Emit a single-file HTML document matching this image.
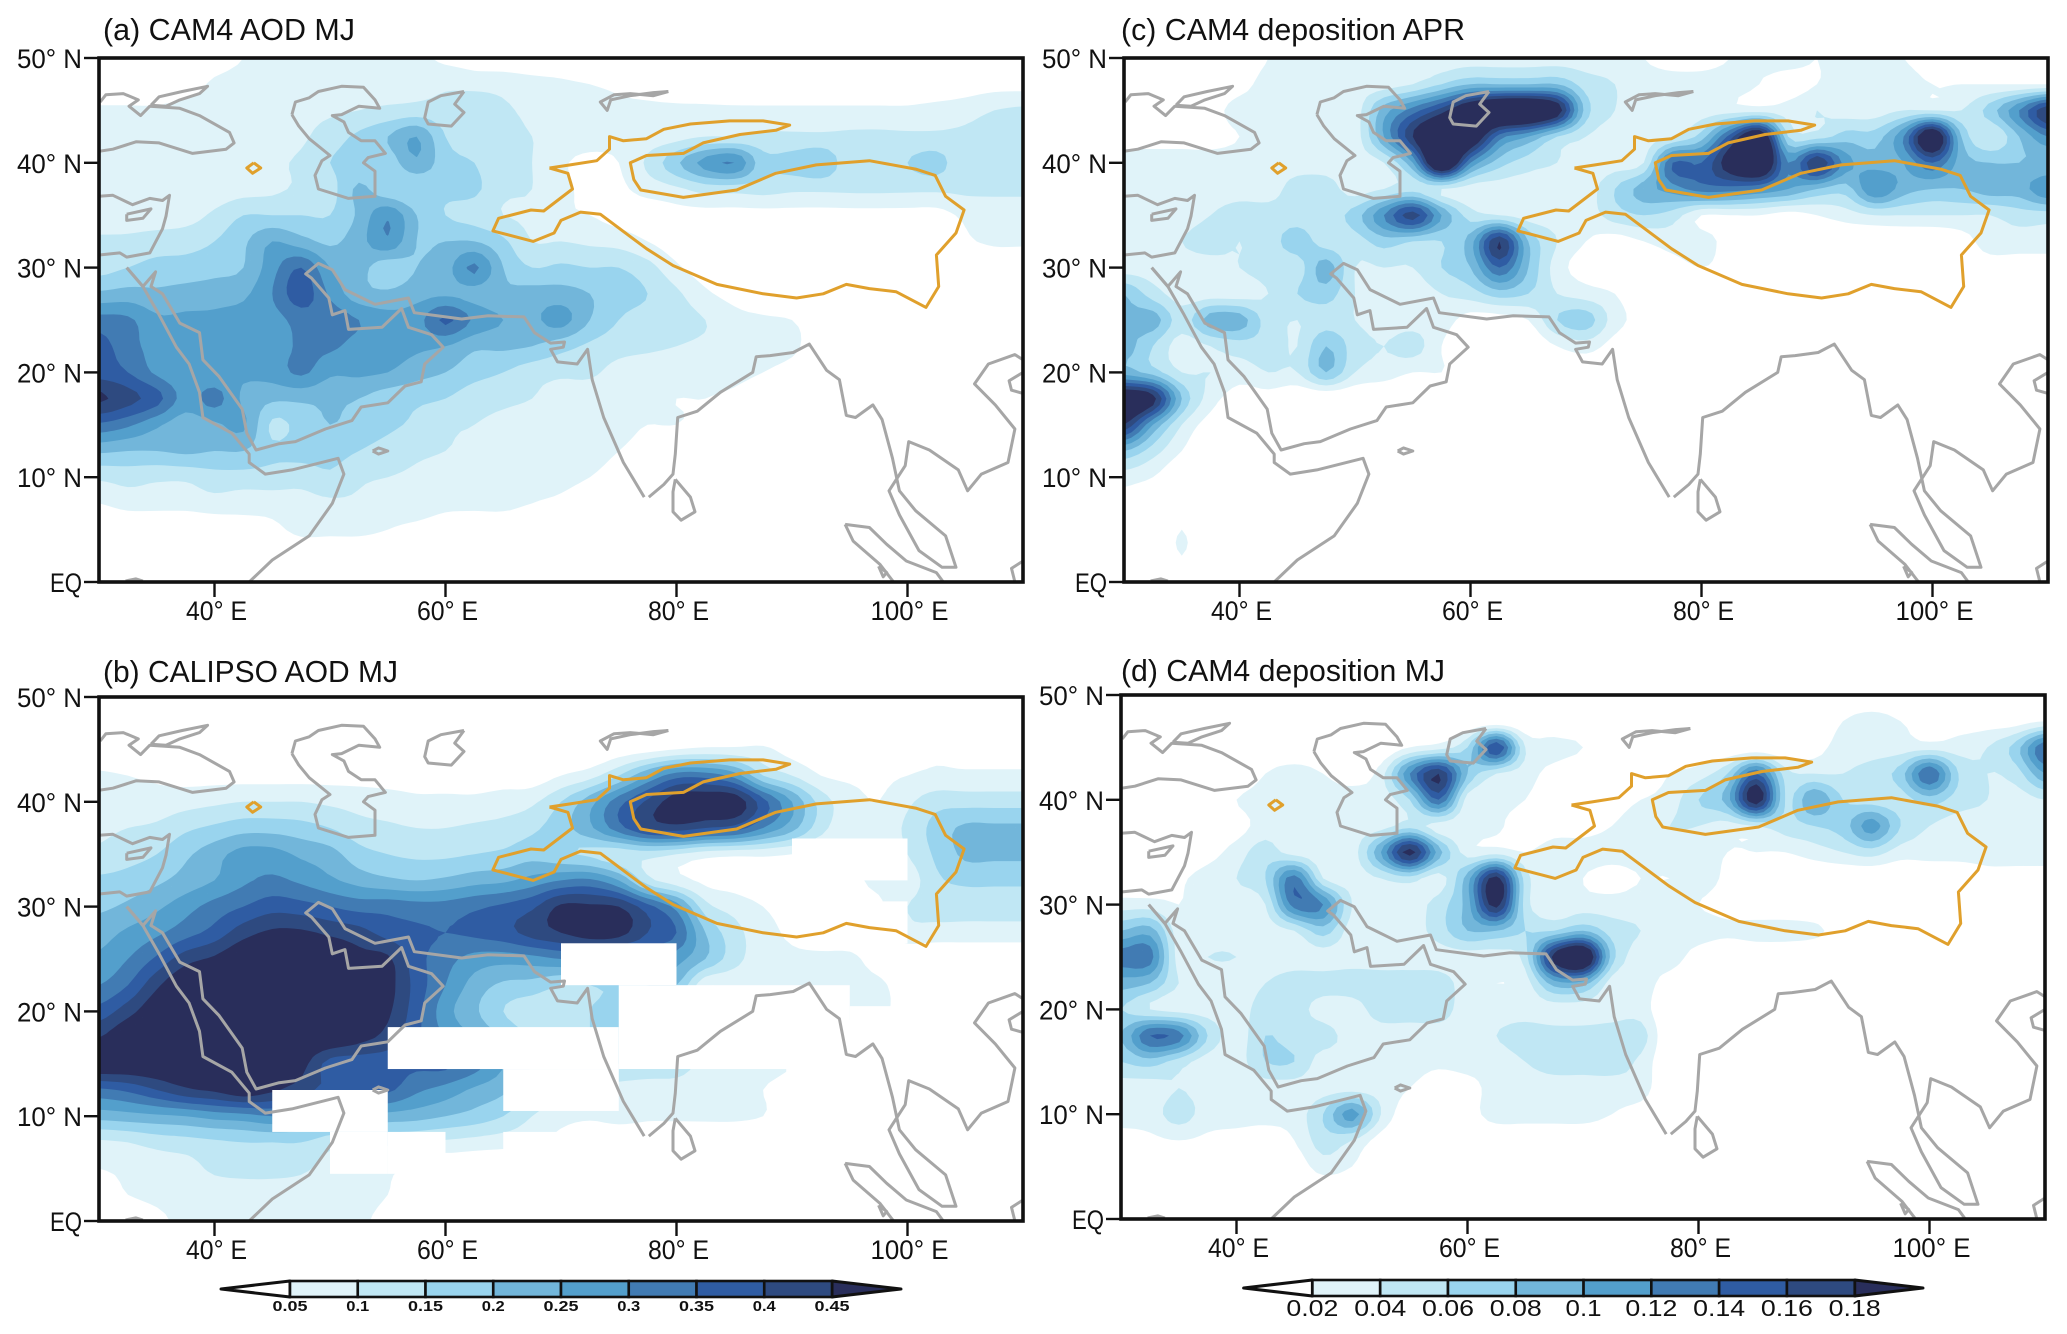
<!DOCTYPE html>
<html lang="en">
<head>
<meta charset="utf-8">
<title>Dust AOD and deposition maps</title>
<style>
html,body{margin:0;padding:0;background:#fff;width:2067px;height:1334px;overflow:hidden}
svg{display:block}
text{font-family:"Liberation Sans",sans-serif;fill:#111}
</style>
</head>
<body>
<svg id="figure" xmlns="http://www.w3.org/2000/svg" width="2067" height="1334" viewBox="0 0 2067 1334">
<rect x="0" y="0" width="2067" height="1334" fill="#fff"/>
<text x="103" y="40" font-size="31" textLength="252" lengthAdjust="spacingAndGlyphs">(a) CAM4 AOD MJ</text>
<text x="103" y="682" font-size="31" textLength="295" lengthAdjust="spacingAndGlyphs">(b) CALIPSO AOD MJ</text>
<text x="1121" y="40" font-size="31" textLength="344" lengthAdjust="spacingAndGlyphs">(c) CAM4 deposition APR</text>
<text x="1121" y="681" font-size="31" textLength="324" lengthAdjust="spacingAndGlyphs">(d) CAM4 deposition MJ</text>
</svg>
<script>
// ---- axis values ----
const lonTicks=[40,60,80,100];
const lonTickLabels=["40° E","60° E","80° E","100° E"];
const latTicks=[0,10,20,30,40,50];
const latTickLabels=["EQ","10° N","20° N","30° N","40° N","50° N"];
const palette=["#e0f3f9","#c0e7f4","#99d4ee","#72b6da","#539fcc","#417bb3","#2f5ca3","#2e4a80","#292e5b"];
const aodLevels=[5,10,15,20,25,30,35,40,45];
const aodBarLabels=["0.05","0.1","0.15","0.2","0.25","0.3","0.35","0.4","0.45"];
const depLevels=[2,4,6,8,10,12,14,16,18];
const depBarLabels=["0.02","0.04","0.06","0.08","0.1","0.12","0.14","0.16","0.18"];

// ---- gridded values (×100), rows 50N→0 every 2.5°, columns 30E→110E every 2.5°; short rows continue with zeros ----
const fieldA=[
[0,0,0,0,2,5,6,6,6,6,6,6,4,3,2,1,1],
[0,0,0,2,6,7,7,7,8,8,8,8,9,8,8,7,6,5,4,3,2,2,1,1,1,1,1,1,1,1,2,3,3],
[6,6,6,7,7,7,8,8,9,10,11,12,12,15,11,9,8,7,6,6,6,6,6,6,6,6,6,6,6,7,8,10,11],
[7,7,7,7,7,7,8,9,13,16,20,25,15,12,11,10,9,8,7,7,8,10,10,11,11,11,11,11,11,11,11,12,12],
[6,6,6,6,7,8,9,11,15,16,17,24,17,15,11,10,6,3,5,11,19,27,30,17,17,19,12,11,15,17,11,11,11],
[7,7,8,7,7,8,9,11,13,21,16,15,16,16,11,10,7,3,4,7,9,12,12,12,11,11,11,11,11,11,11,11,11],
[7,8,8,8,11,15,15,15,15,21,29,20,15,13,10,9,6,5,3,2,3,3,3,3,3,3,3,3,3,3,6,7,7],
[11,11,12,13,15,19,25,22,19,23,29,20,20,20,16,10,10,9,8,5,2,0,0,0,0,0,0,0,0,0,4,6,6],
[13,15,17,17,18,20,28,35,25,22,17,20,23,31,20,15,16,15,15,12,6,2],
[21,22,21,22,23,24,30,38,29,22,21,23,24,23,21,22,22,20,17,15,11,6,3],
[32,31,26,26,26,27,28,32,33,30,27,28,36,29,25,24,27,20,15,13,12,10,7,6,5,2],
[37,32,28,26,27,27,27,31,31,28,27,26,25,21,21,20,17,14,12,11,10,9,8,7,6,2],
[38,35,29,26,26,26,27,31,26,26,25,22,20,17,15,12,11,11,8,7,7,6,6,5,3],
[46,42,37,28,32,24,21,21,21,20,17,16,15,12,11,10,8,7,6,6,5,5,4,2],
[34,31,26,22,24,26,14,17,20,18,16,14,11,10,9,8,7,6,6,5,5,3],
[21,20,20,21,20,20,16,17,17,15,13,11,10,9,8,7,6,6,5,3],
[11,12,11,11,13,13,13,12,14,11,10,9,8,7,6,6,6,5,3],
[5,7,7,7,8,7,7,8,9,9,7,7,6,6,6,5,4,2],
[0,0,0,0,1,3,4,6,6,6,5,4,3,2,2,1],
[0,0,0,0,0,1,2,2,2,2,2,1,1],
[]
];
const fieldB=[
[],
[],
[0,0,0,0,0,0,0,0,0,0,0,0,0,0,0,0,0,0,2,3,5,6,6,6,3,2,2,2,3,4,3,3,3],
[6,5,4,3,3,3,3,3,3,3,3,3,3,3,3,2,5,8,15,25,33,33,28,15,10,5,4,4,5,6,6,6,6],
[7,7,7,8,9,10,10,10,9,8,7,6,6,6,7,9,15,23,33,41,48,49,49,37,25,13,7,5,9,13,13,13,13],
[9,10,11,14,16,18,18,17,15,12,11,10,10,11,12,14,18,24,33,41,43,40,38,30,22,12,6,7,11,17,21,21,21],
[11,13,15,19,23,27,27,24,22,17,15,14,14,15,16,18,16,14,12,12,10,7,6,6,5,4,4,5,10,16,21,21,21],
[16,17,19,22,25,29,31,29,26,23,21,20,21,23,24,27,30,31,25,12,7,4,3,2,2,3,4,6,7,14,16,16,16],
[19,21,24,28,32,35,38,37,35,33,33,32,32,34,36,39,46,46,45,37,28,12,8,5,3,2,3,4,10,12,12,12,12],
[23,26,29,33,37,43,46,46,44,42,38,36,35,36,38,42,45,48,47,40,35,20,12,7,4,2,2,3,8,8,8,8,8],
[26,30,36,43,46,50,50,50,50,47,46,37,32,28,27,28,30,30,30,30,27,20,12,7,6,6,6,3,1],
[30,35,44,50,50,50,50,50,50,50,47,38,30,23,19,18,15,15,17,20,20,6,6,6,6,5,6,6,2],
[37,43,49,50,50,50,50,50,50,50,46,37,27,21,15,12,12,15,17,6,6,6,6,6,6,6,7,7,1],
[45,50,50,50,50,50,50,50,50,47,43,36,30,25,20,15,15,15,15,12,10,8,6,4,2],
[50,50,50,50,50,50,50,47,38,37,37,36,36,32,25,20,15,15,15,14,13,8,7,6,5,3],
[34,36,40,44,46,49,46,42,38,37,36,31,28,24,21,15,12,10,8,7,7,6,6,5,3],
[22,23,24,25,27,28,30,28,25,24,23,22,20,18,15,10,7,6,7,6,6,6,6,5,2],
[9,10,12,13,14,15,15,15,12,11,11,10,9,8,7,6,3],
[5,6,7,8,11,12,12,11,8,6,6,3,1],
[3,5,6,7,7,7,7,7,7,7,5,2],
[1,2,4,6,6,6,6,6,6,6,3,1]
];
// CALIPSO boxes with no retrieval: [west, east, south, north]
const missingB=[
[70,80,22.5,26.5],[75,95,14.5,22.5],[95,110,14.5,20.5],[55,75,14.5,18.5],
[65,75,10.5,14.5],[45,55,8.5,12.5],[50,55,4.5,8.5],[55,60,4.5,8.5],
[60,65,0,6.5],[65,90,6.5,8.5],[89.5,110,8.5,14.5],[90,100,32.5,36.5],[90,100,26.5,30.5]
];
const fieldC=[
[0,0,0,0,0,2,3,3,3,3,3,3,3,3,3,3,3,3,2,1,1,2,3,3,2,3,3,2,1],
[0,0,0,0,1,3,3,3,3,3,4,6,8,8,8,8,5,4,3,3,3,3,2,1,2,3,3,3,2,2,2,2,2],
[0,0,0,1,3,3,3,3,3,9,13,17,22,24,24,20,7,4,3,3,3,3,3,3,4,3,3,4,4,4,7,12,18],
[1,1,1,1,2,3,3,3,3,10,18,24,22,13,10,6,4,3,3,4,7,15,22,6,5,7,7,12,22,8,4,8,12],
[3,3,3,3,3,3,3,3,3,4,10,24,12,7,5,4,3,3,4,14,14,20,24,12,18,11,9,10,14,9,8,8,8],
[3,3,3,3,3,3,5,5,3,4,5,4,3,3,3,3,3,6,9,11,13,13,12,10,8,7,12,9,8,8,9,9,12],
[3,3,3,4,5,5,5,5,7,12,17,10,5,4,3,3,3,5,6,5,2,2,2,1,2,3,4,4,4,4,4,5,5],
[3,3,4,5,4,5,7,5,5,7,6,6,9,18,8,4,2,1,2,3,3,1,0,0,0,0,0,0,0,1,3,3,3],
[3,3,3,3,4,5,5,9,4,4,4,6,8,14,8,3,1,0,0,1,2,1,0,0,0,0,0,0,0,1,1,1,1],
[8,5,3,3,3,4,6,7,4,3,3,4,5,7,6,4,3,2],
[8,9,5,9,9,5,4,5,4,3,3,3,1,1,2,6,7,3,1],
[9,6,3,4,5,5,4,8,5,4,5,2,0,0,0,2,3,1],
[9,7,4,4,3,4,4,8,4,3,2,2,1],
[22,19,8,3,1,1],
[18,10,4,1],
[8,5,2],
[3,2],
[1],
[0,0,2],
[0,0,2],
[]
];
const fieldD=[
[],
[0,0,0,0,0,0,0,0,0,0,0,0,0,0,0,0,0,0,0,0,0,0,0,0,0,2,3,2,1,1,1,1,2],
[0,0,0,0,0,0,0,0,0,0,2,3,6,16,4,3,2,0,0,0,0,0,0,0,1,3,3,3,3,3,4,7,14],
[0,0,0,0,0,2,3,2,1,3,12,18,8,4,3,1,0,0,0,2,3,6,14,5,4,4,5,7,14,6,4,5,10],
[0,0,0,0,2,3,3,3,3,3,6,14,3,3,2,0,0,1,2,3,6,9,20,6,10,6,5,5,7,5,4,3,4],
[0,0,0,0,1,3,3,3,3,3,5,3,3,2.5,0.5,1,1,2,3,4,4,3,4,5,6,7,11,6,4,3,3,3,3],
[0,0,0,1,3,5,3,3,3,10,19,9,3,3,2,3,3,3,3,3,3,2,2,2,3,4,5,3,3,3,3,3,3],
[0,0,1.5,3,4,6,13,4,3,4,5,3,9,19,5,3,2,1,2,2,3,1.5,0,0,0,0,0,0,0,0,1,1,1],
[3,3,2,3,3,4,13,12,4,3,3,5,9,19,5,3,3,3,3,3,2,1],
[8,9,3,3,3,3,4,7,3,3,3,5,8,8,6,6,8,5,4,3,3,2.5,3,3,2.5,1],
[13,13,3,4,4,3,3,3,3,3,3,3,3,3,5,19,23,7,3,3,1],
[9,8,4,3,3,4,5,5,5,5,5,5,3,2,3,9,9,3,3,1],
[6,4,3,3,3,5,5,3,3,5,5,5,3,3,3,3,3,3,3],
[8,14,13,6,3,6,5,5,3,3,3,3,3,4,5,5,5,5,5],
[6,7,5,3,3,6,6,3,4,3,3,2.5,3,3,4,5,5,5,3.5],
[3,3,4,3,2.5,3,3,3,3,3,2,0.5,1,3,3,3,3,3,3],
[3,3,5,3,3,3,3,6,11,4,0.5,0,1,3,3,3,3,2,1],
[1,1.5,2,1.5,1,0.5,2,5,4,1],
[0,0,0,0,0,0,0.5,3,2],
[],
[]
];

// ---- coast and boundary lines as [lon, lat] ----
const coastlines=[
[[30.1,45.8],[30.6,46.5],[32.1,46.6],[33.4,46],[32.6,45.4],[33.6,44.5],[34.4,45.4],[37,45.2],[38.7,44.5],[41.3,42.9],[41.7,41.9],[41,41.3],[38.1,40.9],[35.2,41.9],[33.2,42],[31.2,41.3],[30,41.1]],
[[34.5,45.5],[35.2,46.3],[37.2,46.8],[39.4,47.3],[38.7,46.6],[37,46],[35.8,45.4],[34.5,45.5]],
[[46.7,44.6],[47,45.8],[48.2,46.2],[49,46.8],[51,47.3],[52.9,47.2],[53.9,46],[54.3,45.2],[52.5,45.4],[51,44.6],[50.2,44.5],[51.2,43.9],[51.6,42.9],[52.7,42.1],[53.9,42.1],[54.8,40.9],[53.3,40.5],[52.9,40],[53.9,39.2],[53.9,36.8],[51.6,36.6],[49,37.5],[48.7,38.8],[49.3,40.2],[50,40.7],[48.2,42.3],[47.3,43.5],[46.7,44.6]],
[[61.6,46.8],[59.6,46.4],[58.5,45.8],[58.2,44.3],[58.5,43.7],[60.5,43.5],[61.6,44.8],[60.8,45.6],[61.6,46.8]],
[[79.3,46.8],[78,46.4],[76,46.6],[74.6,46.5],[73.4,45.8],[74,45],[74.3,46],[76,46.4],[78,46.7],[79.3,46.8]],
[[30,36.8],[31.2,36.9],[32.9,36],[34.4,36.6],[35.5,36.4],[36.1,36.9],[35.8,34.9],[35.5,33.7],[34.4,31.4],[32.4,31],[31.8,31.4],[30,31.2]],
[[32.4,35.1],[34.5,35.6],[33.8,34.7],[32.4,34.5],[32.4,35.1]],
[[32.4,30],[33.8,28.2],[35.2,25.5],[36.7,22.4],[37.8,20.8],[38.7,18.1],[39,15.7],[41.5,14.2],[43,12.2],[43,11.4],[44.4,10.3],[46.7,10.7],[50.7,11.8],[51.2,10.3],[50.2,7.5],[48.2,4.4],[45,2.1],[43,0]],
[[32.4,30],[33.8,28.2],[34.9,29.6],[34.5,28.2],[35.5,27.5],[37,24.7],[38.7,23.8],[39,21.2],[40.4,19.6],[42.4,16.5],[42.8,14.2],[43.6,12.6],[45.6,13.2],[47,13.4],[49.6,14.6],[51.9,15.4],[52.7,16.7],[55,17.1],[56.5,18.7],[57.9,19.1],[58.2,20.8],[59.8,22.4],[58.8,23.6],[56.8,24.3],[56.2,26.1],[54.5,24.3],[51.6,24.1],[51.3,25.9],[50.2,25.5],[49.9,27.1],[48.4,29],[47.9,29.4],[49,30.4],[50.2,29.8],[51.3,27.9],[53.9,26.5],[56.8,27.1],[57.3,25.7],[61.4,25.1],[63.7,25.4],[66.8,25.3],[67.7,23.8],[69.1,22.8],[70.3,22.9],[70.2,22.4],[69.1,22.2],[69.7,21],[71.4,20.8],[72.3,22.2],[72.7,19.3],[73.7,15.7],[75.4,11.4],[77.2,8.1]],
[[77.6,8.1],[78.9,9.3],[79.7,10.3],[79.9,12.2],[80.1,15.7],[81.8,16.3],[83.8,18.1],[86.6,20],[86.9,21.5],[88.1,21.6],[90.1,21.9],[91.5,22.7],[93,20.2],[94.1,19.3],[94.7,15.9],[95.5,15.7],[97,16.9],[97.8,15.5],[98.7,11.8],[99.3,8.7],[100.7,6.8],[103.3,4.4],[104.2,1.4],[103,1.4],[101,3],[99.3,6.4],[98.4,8.7],[99.8,11.1],[100.1,13.4],[101.9,12.6],[104.4,10.7],[105.2,8.7],[106.4,10.3],[108.7,11.4],[109.3,14.6],[107.6,16.9],[105.8,18.9],[107,20.8],[109.3,21.7],[110,21.2]],
[[110,20],[108.8,19.2],[109,18.3],[110,18]],
[[94.6,5.5],[96.7,5.2],[98.2,3.6],[99.9,2],[102.5,0.9],[103.1,0]],
[[94.6,5.5],[95.3,3.9],[97.6,1.7],[98.8,0]],
[[97.5,1.5],[98.2,0.9],[97.9,0.5],[97.5,1.5]],
[[110,2],[109,1.3],[109.3,0]],
[[79.9,9.8],[81.2,8.1],[81.6,6.7],[80.4,5.9],[79.7,6.7],[79.7,8.6],[79.9,9.8]],
[[53.7,12.5],[54.2,12.8],[55,12.5],[54.2,12.2],[53.7,12.5]],
[[32.3,0.1],[33.2,0.3],[33.8,0.1]]
];
const plateauOutline=[
[[69,39.5],[70.8,39.8],[73.1,40.2],[74.2,41.3],[74.2,42.5],[75.4,42.1],[77.4,42.3],[78.9,43.2],[81.2,43.7],[84.6,44],[87.5,44],[89.8,43.6],[88.6,43.1],[85.5,42.7],[82.3,41.9],[80.6,40.9],[77.4,40.7],[76,40],[76.3,38.4],[76.9,37.4],[80.6,36.7],[85.2,37.4],[88.6,39],[92.1,39.8],[96.7,40.2],[100.7,39.4],[102.4,38.8],[103.3,36.8],[104.9,35.5],[104.2,33.3],[102.5,31.2],[102.7,28.2],[101.6,26.2],[99,27.7],[96.7,28],[94.7,28.4],[92.7,27.5],[90.4,27.1],[87.5,27.5],[83.5,28.4],[79.7,30.2],[77.4,31.8],[73.4,35.1],[71.7,35.3],[70,34.5],[69.4,33.3],[67.6,32.5],[64.1,33.5],[64.6,34.7],[67.4,35.5],[68.5,35.4],[71,37.5],[70.6,39],[69,39.5]],
[[43.4,40],[44,39.5],[43.3,39],[42.8,39.5],[43.4,40]]
];

// ---- layout ----
const NS="http://www.w3.org/2000/svg";
const svg=document.getElementById("figure");
const panels=[
 {id:"a",x0:99,x1:1023,y0:58,y1:582,field:fieldA,levels:aodLevels,missing:[]},
 {id:"b",x0:99,x1:1023,y0:697,y1:1221,field:fieldB,levels:aodLevels,missing:missingB},
 {id:"c",x0:1124,x1:2048,y0:58,y1:582,field:fieldC,levels:depLevels,missing:[]},
 {id:"d",x0:1121,x1:2045,y0:695,y1:1219,field:fieldD,levels:depLevels,missing:[]}
];
const GRID_COLS=33,GRID_ROWS=21,REFINE=4;

function make(tag,attrs,parent){
  const el=document.createElementNS(NS,tag);
  for(const k in attrs) el.setAttribute(k,attrs[k]);
  parent.appendChild(el);
  return el;
}
function cr(a,b,c,d,t){
  return 0.5*((2*b)+(-a+c)*t+(2*a-5*b+4*c-d)*t*t+(-a+3*b-3*c+d)*t*t*t);
}
function refine(field,f){
  const get=(r,c)=>{
    r=Math.max(0,Math.min(GRID_ROWS-1,r));
    c=Math.max(0,Math.min(GRID_COLS-1,c));
    const row=field[r]||[];
    const v=row[c];
    return v===undefined?0:v;
  };
  const out=[];
  for(let R=0;R<=(GRID_ROWS-1)*f;R++){
    const r0=Math.min(Math.floor(R/f),GRID_ROWS-2),tr=R/f-r0;
    const line=[];
    for(let C=0;C<=(GRID_COLS-1)*f;C++){
      const c0=Math.min(Math.floor(C/f),GRID_COLS-2),tc=C/f-c0;
      const col=[];
      for(let k=-1;k<=2;k++){
        col.push(cr(get(r0+k,c0-1),get(r0+k,c0),get(r0+k,c0+1),get(r0+k,c0+2),tc));
      }
      line.push(cr(col[0],col[1],col[2],col[3],tr));
    }
    out.push(line);
  }
  return out;
}
function regionPath(fine,t,p){
  const nR=fine.length-1,nC=fine[0].length-1;
  const sx=(p.x1-p.x0)/nC,sy=(p.y1-p.y0)/nR;
  const X=c=>(p.x0+c*sx).toFixed(1),Y=r=>(p.y0+r*sy).toFixed(1);
  let d=[];
  for(let r=0;r<nR;r++){
    let run=-1;
    for(let c=0;c<=nC;c++){
      const full=c<nC&&fine[r][c]>=t&&fine[r][c+1]>=t&&fine[r+1][c]>=t&&fine[r+1][c+1]>=t;
      if(full){ if(run<0) run=c; continue; }
      if(run>=0){
        d.push("M"+X(run)+" "+Y(r)+"L"+X(c)+" "+Y(r)+"L"+X(c)+" "+Y(r+1)+"L"+X(run)+" "+Y(r+1)+"Z");
        run=-1;
      }
      if(c===nC) break;
      const q=[[c,r,fine[r][c]],[c+1,r,fine[r][c+1]],[c+1,r+1,fine[r+1][c+1]],[c,r+1,fine[r+1][c]]];
      if(q.every(v=>v[2]<t)) continue;
      const poly=[];
      for(let i=0;i<4;i++){
        const a=q[i],b=q[(i+1)%4];
        if(a[2]>=t) poly.push([a[0],a[1]]);
        if((a[2]>=t)!==(b[2]>=t)){
          const u=(t-a[2])/(b[2]-a[2]);
          poly.push([a[0]+u*(b[0]-a[0]),a[1]+u*(b[1]-a[1])]);
        }
      }
      if(poly.length>2){
        d.push("M"+poly.map(v=>X(v[0])+" "+Y(v[1])).join("L")+"Z");
      }
    }
  }
  return d.join("");
}

panels.forEach(p=>{
  const lonX=lon=>p.x0+(lon-30)/80*(p.x1-p.x0);
  const latY=lat=>p.y1-lat/50*(p.y1-p.y0);
  const g=make("g",{},svg);
  
  
  const clip=make("clipPath",{id:"clip-"+p.id},g);
  make("rect",{x:p.x0,y:p.y0,width:p.x1-p.x0,height:p.y1-p.y0},clip);
  const body=make("g",{"clip-path":"url(#clip-"+p.id+")"},g);
  
  

  const fine=refine(p.field,REFINE);
  p.levels.forEach((lv,i)=>{
    const path=make("path",{d:regionPath(fine,lv,p),fill:palette[i],stroke:"none"},body);
    
    
  });
  p.missing.forEach(b=>{
    const r=make("rect",{x:lonX(b[0]),y:latY(b[3]),width:lonX(b[1])-lonX(b[0]),height:latY(b[2])-latY(b[3]),fill:"#fff"},body);
    
    
  });
  coastlines.forEach(line=>{
    const l=make("polyline",{points:line.map(v=>lonX(v[0]).toFixed(1)+","+latY(v[1]).toFixed(1)).join(" "),fill:"none",stroke:"#a6a6a6","stroke-width":3,"stroke-linejoin":"round"},body);
    
    
  });
  plateauOutline.forEach(line=>{
    const l=make("polyline",{points:line.map(v=>lonX(v[0]).toFixed(1)+","+latY(v[1]).toFixed(1)).join(" "),fill:"none",stroke:"#e0a02c","stroke-width":3,"stroke-linejoin":"round"},body);
    
    
  });

  const frame=make("rect",{x:p.x0,y:p.y0,width:p.x1-p.x0,height:p.y1-p.y0,fill:"none",stroke:"#111","stroke-width":3.6},g);
  
  

  lonTicks.forEach((lon,i)=>{
    const x=lonX(lon);
    const t=make("line",{x1:x,x2:x,y1:p.y1,y2:p.y1+15,stroke:"#111","stroke-width":2.4},g);
    
    
    const lab=make("text",{x:x+2,y:p.y1+38,"font-size":27,"text-anchor":"middle",textLength:lonTickLabels[i].length===6?78:61,lengthAdjust:"spacingAndGlyphs"},g);
    lab.textContent=lonTickLabels[i];
    
    
  });
  latTicks.forEach((lat,i)=>{
    const y=latY(lat);
    const t=make("line",{x1:p.x0-15,x2:p.x0,y1:y,y2:y,stroke:"#111","stroke-width":2.4},g);
    
    
    const lab=make("text",{x:p.x0-17,y:y+10,"font-size":27,"text-anchor":"end",textLength:latTickLabels[i]==="EQ"?32:65,lengthAdjust:"spacingAndGlyphs"},g);
    lab.textContent=latTickLabels[i];
    
    
  });
});

// ---- colour bars ----
function colorbar(name,labels,x0,x1,tipL,tipR,top,bot,labelY,fontSize,weight,widthFor){
  const g=make("g",{},svg);
  
  
  const n=labels.length-1,step=(x1-x0)/n,mid=(top+bot)/2;
  const left=make("polygon",{points:x0+","+top+" "+x0+","+bot+" "+tipL+","+mid,fill:"#fff",stroke:"#111","stroke-width":3,"stroke-linejoin":"round"},g);
  
  
  const right=make("polygon",{points:x1+","+top+" "+x1+","+bot+" "+tipR+","+mid,fill:palette[n],stroke:"#111","stroke-width":3,"stroke-linejoin":"round"},g);
  
  
  for(let i=0;i<n;i++){
    const r=make("rect",{x:x0+i*step,y:top,width:step,height:bot-top,fill:palette[i],stroke:"#111","stroke-width":2.6},g);
    
    
  }
  labels.forEach((s,i)=>{
    const t=make("text",{x:x0+i*step,y:labelY,"font-size":fontSize,"font-weight":weight,"text-anchor":"middle",textLength:widthFor(s),lengthAdjust:"spacingAndGlyphs"},g);
    t.textContent=s;
    
    
  });
}
colorbar("aod-colorbar",aodBarLabels,290,832,221,901,1281,1297,1311,15,"bold",s=>s.length===4?35:23);
colorbar("deposition-colorbar",depBarLabels,1312.4,1854.7,1243.6,1923,1280,1296,1316,23,"normal",s=>s.length===4?52:36);
</script>
</body>
</html>
